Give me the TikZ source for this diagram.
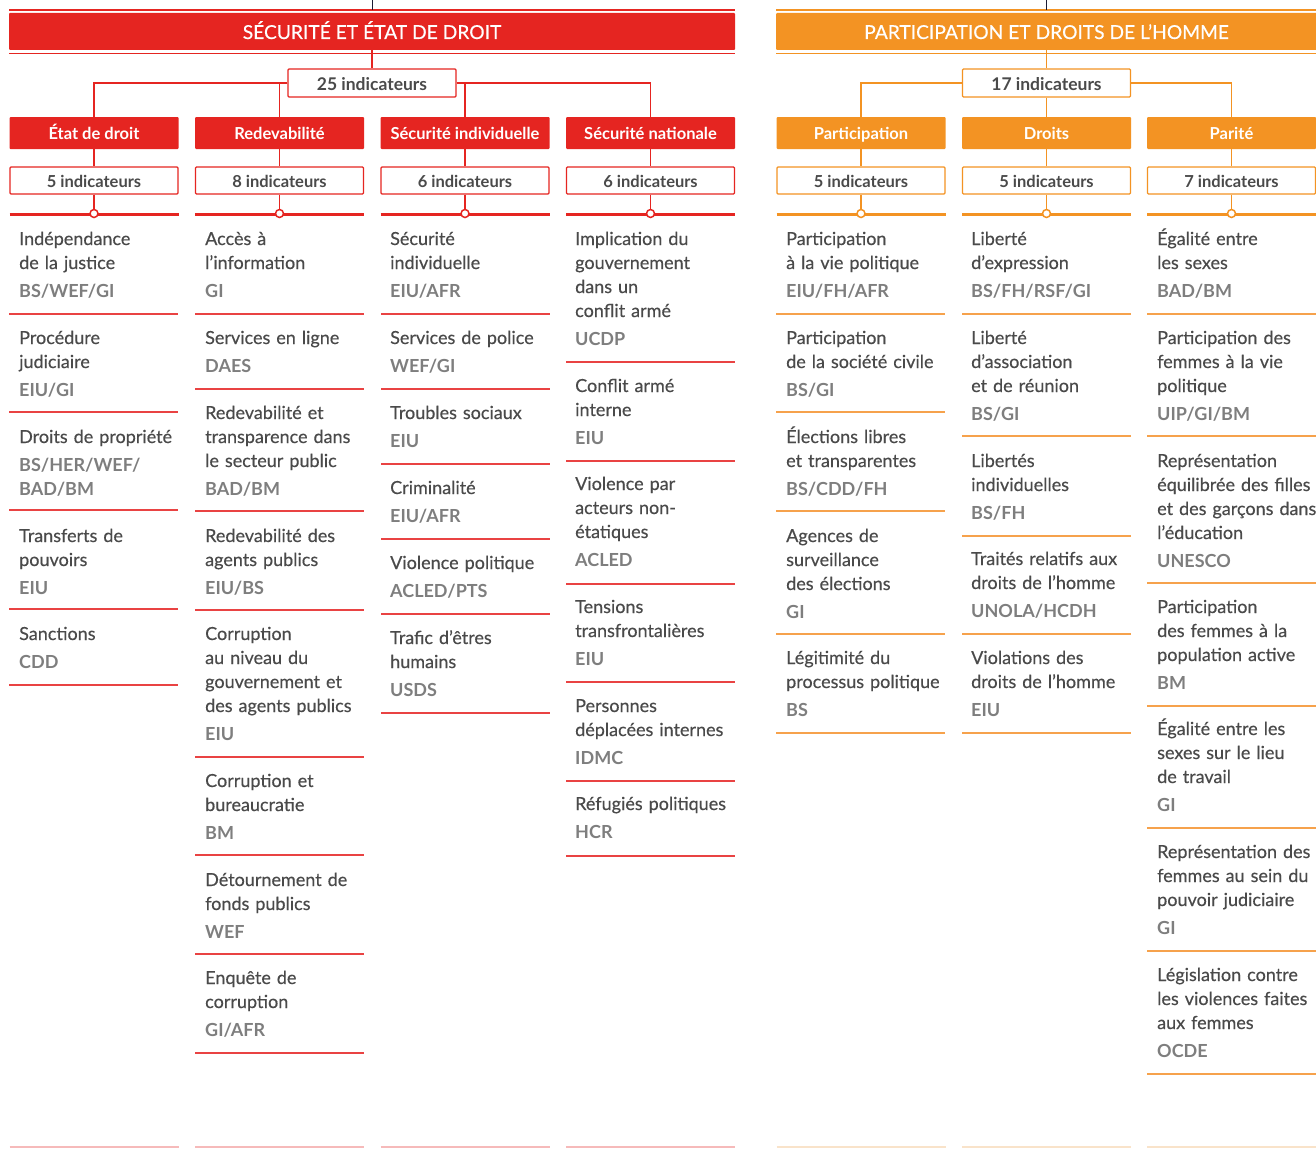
\documentclass[tikz,border=0pt]{standalone}
\usepackage{fontspec}
\setmainfont{Lato}[UprightFeatures={FakeBold=0.4}]
\usetikzlibrary{positioning}

\definecolor{secred}{HTML}{E52521}
\definecolor{secline}{HTML}{E94343}
\definecolor{secfaint}{HTML}{F6BABA}
\definecolor{partorange}{HTML}{F39323}
\definecolor{partline}{HTML}{F6A24C}
\definecolor{partfaint}{HTML}{F9E3CA}
\definecolor{bodygray}{HTML}{4A4A4A}
\definecolor{srcgray}{HTML}{7E7E7E}
\definecolor{topnavy}{HTML}{1B1B33}

\begin{document}
\begin{tikzpicture}[x=1pt, y=-1pt,
  headbar/.style={minimum height=37, inner sep=0, rounded corners=1, text=white, text height=15, text depth=0, font=\fontsize{19.2}{24}\selectfont},
  totalbox/.style={fill=white, line width=1.2, minimum width=168, minimum height=28, inner sep=0, rounded corners=1, text=bodygray, text height=15, text depth=0, font=\bfseries\fontsize{17.5}{20}\selectfont},
  catbox/.style={minimum width=169, minimum height=32, inner sep=0, rounded corners=1, text=white, text height=12, text depth=0, font=\bfseries\fontsize{16.5}{18}\selectfont},
  countbox/.style={fill=white, line width=1.2, minimum width=168, minimum height=27, inner sep=0, rounded corners=1, text=bodygray, text height=14, text depth=0, font=\bfseries\fontsize{16.5}{18}\selectfont},
  knot/.style={circle, fill=white, line width=1.5, minimum size=8, inner sep=0},
  indic/.style={anchor=base west, inner sep=0, text width=200, align=left, text=bodygray, font=\fontsize{18}{24}\selectfont},
]
\useasboundingbox (0,0) rectangle (1316,1148);

% Headers of the two pillars
\draw [secred, line width=1.2] (9,10) -- (735,10) (9,53.5) -- (735,53.5);
\draw [partorange, line width=1.2] (776,10) -- (1316,10) (776,53.5) -- (1316,53.5);
\node [headbar, fill=secred, minimum width=726] (hsec) at (372,31.5) {SÉCURITÉ ET ÉTAT DE DROIT};
\node [headbar, fill=partorange, minimum width=541] (hpart) at (1046.5,31.5) {PARTICIPATION ET DROITS DE L’HOMME};
\coordinate (topsec) at (372,0);
\coordinate (toppart) at (1046.5,0);
\draw [topnavy] (topsec) -- ++(0,10);
\draw [topnavy] (toppart) -- ++(0,10);

% Totals
\node [totalbox, draw=secred] (tsec) at (372,83) {25 indicateurs};
\node [totalbox, draw=partorange] (tpart) at (1046.5,83) {17 indicateurs};
\draw [secred, line width=1.2] (hsec.south) -- (tsec.north);
\draw [partorange, line width=1.2] (hpart.south) -- (tpart.north);

% Sub-categories of the first pillar
\foreach \i/\x/\lab/\num/\anc in {
  1/94/{État de droit}/5/west,
  2/279.5/{Redevabilité}/8/west,
  3/465/{Sécurité individuelle}/6/east,
  4/650.5/{Sécurité nationale}/6/east} {
  \node [catbox, fill=secred] (sc\i) at (\x,133) {\lab};
  \node [countbox, draw=secred] (sn\i) at (\x,180.5) {\num\ indicateurs};
  \draw [secred, line width=1.2] (tsec.\anc) -| (sc\i.north);
  \draw [secred, line width=1.2] (sc\i.south) -- (sn\i.north);
  \draw [secred, line width=3] (\x-84.5,214) -- (\x+84.5,214);
  \draw [secfaint, line width=2] (\x-84.5,1147) -- (\x+84.5,1147);
  \node [knot, draw=secred] (sk\i) at (\x,213.5) {};
  \draw [secred, line width=1.2] (sn\i.south) -- (sk\i.north);
}

% Sub-categories of the second pillar
\foreach \i/\x/\lab/\num/\anc in {
  1/861/{Participation}/5/west,
  2/1046.5/{Droits}/5/south,
  3/1231.5/{Parité}/7/east} {
  \node [catbox, fill=partorange] (pc\i) at (\x,133) {\lab};
  \node [countbox, draw=partorange] (pn\i) at (\x,180.5) {\num\ indicateurs};
  \draw [partorange, line width=1.2] (tpart.\anc) -| (pc\i.north);
  \draw [partorange, line width=1.2] (pc\i.south) -- (pn\i.north);
  \draw [partorange, line width=3] (\x-84.5,214) -- (\x+84.5,214);
  \draw [partfaint, line width=2] (\x-84.5,1147) -- (\x+84.5,1147);
  \node [knot, draw=partorange] (pk\i) at (\x,213.5) {};
  \draw [partorange, line width=1.2] (pn\i.south) -- (pk\i.north);
}

% Etat de droit
\foreach [count=\k] \yt/\txt/\src/\ys in {
  238/{Indépendance\\de la justice}/{BS/WEF/GI}/314,
  337/{Procédure\\judiciaire}/{EIU/GI}/412,
  436/{Droits de propriété}/{BS/HER/WEF/\\BAD/BM}/510,
  535/{Transferts de\\pouvoirs}/{EIU}/609,
  633/{Sanctions}/{CDD}/685} {
  \node [indic] (s1-\k) at (19,\yt+7) {\txt\\[4pt]{\bfseries\color{srcgray}\src}};
  \draw [secline, line width=1.8] (9,\ys) -- ++(169,0);
}

% Redevabilite
\foreach [count=\k] \yt/\txt/\src/\ys in {
  238/{Accès à\\l’information}/{GI}/314,
  337/{Services en ligne}/{DAES}/389,
  412/{Redevabilité et\\transparence dans\\le secteur public}/{BAD/BM}/511,
  535/{Redevabilité des\\agents publics}/{EIU/BS}/610,
  633/{Corruption\\au niveau du\\gouvernement et\\des agents publics}/{EIU}/757,
  780/{Corruption et\\bureaucratie}/{BM}/855,
  879/{Détournement de\\fonds publics}/{WEF}/954,
  977/{Enquête de\\corruption}/{GI/AFR}/1053} {
  \node [indic] (s2-\k) at (205,\yt+7) {\txt\\[4pt]{\bfseries\color{srcgray}\src}};
  \draw [secline, line width=1.8] (195,\ys) -- ++(169,0);
}

% Securite individuelle
\foreach [count=\k] \yt/\txt/\src/\ys in {
  238/{Sécurité\\individuelle}/{EIU/AFR}/314,
  337/{Services de police}/{WEF/GI}/389,
  412/{Troubles sociaux}/{EIU}/464,
  487/{Criminalité}/{EIU/AFR}/539,
  562/{Violence politique}/{ACLED/PTS}/614,
  637/{Trafic d’êtres\\humains}/{USDS}/713} {
  \node [indic] (s3-\k) at (390,\yt+7) {\txt\\[4pt]{\bfseries\color{srcgray}\src}};
  \draw [secline, line width=1.8] (381,\ys) -- ++(169,0);
}

% Securite nationale
\foreach [count=\k] \yt/\txt/\src/\ys in {
  238/{Implication du\\gouvernement\\dans un\\conflit armé}/{UCDP}/362,
  385/{Conflit armé\\interne}/{EIU}/461,
  483/{Violence par\\acteurs non-\\étatiques}/{ACLED}/584,
  606/{Tensions\\transfrontalières}/{EIU}/682,
  705/{Personnes\\déplacées internes}/{IDMC}/781,
  803/{Réfugiés politiques}/{HCR}/856} {
  \node [indic] (s4-\k) at (575,\yt+7) {\txt\\[4pt]{\bfseries\color{srcgray}\src}};
  \draw [secline, line width=1.8] (566,\ys) -- ++(169,0);
}

% Participation
\foreach [count=\k] \yt/\txt/\src/\ys in {
  238/{Participation\\à la vie politique}/{EIU/FH/AFR}/314,
  337/{Participation\\de la société civile}/{BS/GI}/412,
  436/{Élections libres\\et transparentes}/{BS/CDD/FH}/511,
  535/{Agences de\\surveillance\\des élections}/{GI}/634,
  657/{Légitimité du\\processus politique}/{BS}/733} {
  \node [indic] (p1-\k) at (786,\yt+7) {\txt\\[4pt]{\bfseries\color{srcgray}\src}};
  \draw [partline, line width=1.8] (776,\ys) -- ++(169,0);
}

% Droits
\foreach [count=\k] \yt/\txt/\src/\ys in {
  238/{Liberté\\d’expression}/{BS/FH/RSF/GI}/314,
  337/{Liberté\\d’association\\et de réunion}/{BS/GI}/436,
  460/{Libertés\\individuelles}/{BS/FH}/536,
  558/{Traités relatifs aux\\droits de l’homme}/{UNOLA/HCDH}/634,
  657/{Violations des\\droits de l’homme}/{EIU}/733} {
  \node [indic] (p2-\k) at (971,\yt+7) {\txt\\[4pt]{\bfseries\color{srcgray}\src}};
  \draw [partline, line width=1.8] (962,\ys) -- ++(169,0);
}

% Parite
\foreach [count=\k] \yt/\txt/\src/\ys in {
  238/{Égalité entre\\les sexes}/{BAD/BM}/314,
  337/{Participation des\\femmes à la vie\\politique}/{UIP/GI/BM}/436,
  460/{Représentation\\équilibrée des filles\\et des garçons dans\\l’éducation}/{UNESCO}/583,
  606/{Participation\\des femmes à la\\population active}/{BM}/706,
  728/{Égalité entre les\\sexes sur le lieu\\de travail}/{GI}/828,
  851/{Représentation des\\femmes au sein du\\pouvoir judiciaire}/{GI}/951,
  974/{Législation contre\\les violences faites\\aux femmes}/{OCDE}/1074} {
  \node [indic] (p3-\k) at (1157,\yt+7) {\txt\\[4pt]{\bfseries\color{srcgray}\src}};
  \draw [partline, line width=1.8] (1147,\ys) -- ++(169,0);
}

\end{tikzpicture}
\end{document}
